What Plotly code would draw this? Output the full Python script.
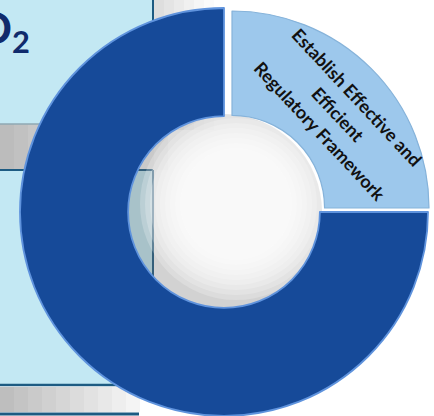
import plotly.graph_objects as go

W, H = 434, 416

# ---- data ----
labels = ["Establish Effective and Efficient Regulatory Framework", "Other objectives"]
values = [25, 75]
label_lines = ["Establish Effective and", "Efficient", "Regulatory Framework"]
title_text = "CO<sub>2</sub>"

DARK = "#164A99"
LIGHT = "#9DC8EC"
BOX = "#C3E8F3"
BORDER = "#1D5B82"
NAVY = "#102B6C"
CLEAR = "rgba(0,0,0,0)"


def px(x):
    return x / W


def py(y):
    return (H - y) / H


shapes = []


def rect(x0, y0, x1, y1, fill, line_color=None, lw=0):
    shapes.append(dict(type="rect", xref="paper", yref="paper",
                       x0=px(x0), x1=px(x1), y0=py(y1), y1=py(y0),
                       fillcolor=fill, layer="below",
                       line=dict(color=line_color or fill, width=lw)))


def line(x0, y0, x1, y1, color, lw):
    shapes.append(dict(type="line", xref="paper", yref="paper",
                       x0=px(x0), x1=px(x1), y0=py(y0), y1=py(y1),
                       layer="below", line=dict(color=color, width=lw)))


def circle(cx, cy, r, fill):
    shapes.append(dict(type="circle", xref="paper", yref="paper",
                       x0=px(cx - r), x1=px(cx + r), y0=py(cy + r), y1=py(cy - r),
                       fillcolor=fill, layer="below", line=dict(width=0)))


# grey shading right of top box
for i, g in enumerate([222, 228, 234, 240, 246, 251]):
    rect(154 + i * 10, 0, 164 + i * 10, 130, f"rgb({g},{g},{g})")
# grey band between boxes (horizontal gradient)
for i in range(12):
    g = 188 + int(i * 5.5)
    rect(i * 14, 124, i * 14 + 14, 170, f"rgb({g},{g},{g})")
# top box
rect(0, -2, 153, 124, BOX)
line(153, -2, 153, 124, BORDER, 2)
line(0, 124, 153, 124, "#8FA9B3", 1.5)
# middle box
rect(0, 170, 153, 385, BOX)
line(153, 170, 153, 385, BORDER, 2)
line(0, 170, 153, 170, BORDER, 2)
line(0, 385, 153, 385, BORDER, 2.5)
# bottom grey band
for i in range(10):
    g = 190 + i * 6
    rect(i * 14, 387, i * 14 + 14, 412, f"rgb({g},{g},{g})")
line(0, 414, 139, 414, BORDER, 3)

# hole shading
HCX, HCY, HR = 224, 212, 96
circle(HCX, HCY, HR + 2, "rgba(105,105,105,0.30)")
for k in range(9):
    circle(236, 204, 96 - k * 5, "rgba(255,255,255,0.22)")

fig = go.Figure()

# main (dark) slice
fig.add_trace(go.Pie(
    labels=labels, values=values, sort=False, direction="clockwise",
    rotation=0, hole=0.47, textinfo="none", hoverinfo="skip", showlegend=False,
    marker=dict(colors=[CLEAR, DARK], line=dict(color=[CLEAR, "#5F93DD"], width=[0, 1.8])),
    domain=dict(x=[px(20), px(428)], y=[py(416), py(8)]),
))
# exploded (light) slice
fig.add_trace(go.Pie(
    labels=labels, values=values, sort=False, direction="clockwise",
    rotation=0, hole=0.47, textinfo="none", hoverinfo="skip", showlegend=False,
    marker=dict(colors=[LIGHT, CLEAR], line=dict(color=["#86B3DA", CLEAR], width=[1.2, 0])),
    domain=dict(x=[px(35), px(429)], y=[py(405), py(11)]),
))

annotations = []
centers = [(357, 97), (338, 114), (320, 131)]
for txt, (cx, cy) in zip(label_lines, centers):
    annotations.append(dict(
        text=f"<b>{txt}</b>", x=px(cx), y=py(cy), xref="paper", yref="paper",
        xanchor="center", yanchor="middle", showarrow=False, textangle=47,
        font=dict(family="Lato", size=18, color="#111111")))

annotations.append(dict(
    text=f"<b>{title_text}</b>", x=px(32), y=py(-1), xref="paper", yref="paper",
    xanchor="right", yanchor="top", showarrow=False,
    font=dict(family="Lato", size=44, color=NAVY)))

fig.update_layout(
    width=W, height=H, margin=dict(l=0, r=0, t=0, b=0),
    paper_bgcolor="white", plot_bgcolor="white",
    shapes=shapes, annotations=annotations,
)

fig.write_html("out.html", config={"displayModeBar": False},
               post_script="document.body.style.margin='0';document.body.style.overflow='hidden';")
